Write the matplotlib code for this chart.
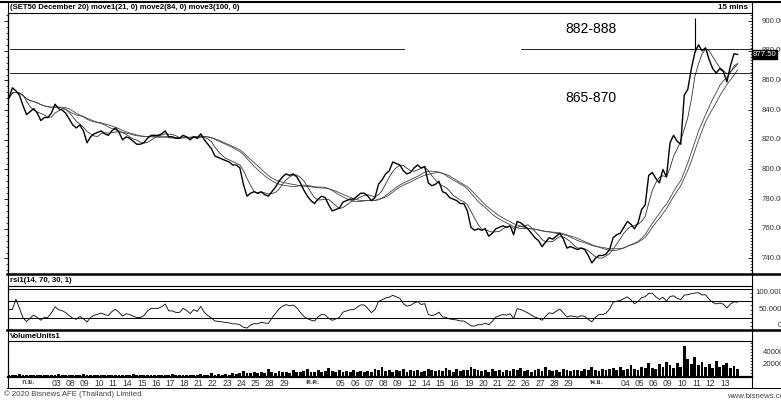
import numpy as np
import pandas as pd
import matplotlib
matplotlib.use("Agg")
import matplotlib.pyplot as plt
from matplotlib import font_manager, transforms
from matplotlib.lines import Line2D
from matplotlib.ticker import MultipleLocator, NullFormatter, FixedLocator
import matplotlib.ft2font as ft2font

# ---------------- data ----------------
title = "(SET50 December 20) move1(21, 0) move2(84, 0) move3(100, 0)"
interval = "15 mins"
rsi_title = "rsi1(14, 70, 30, 1)"
vol_title = "VolumeUnits1"

close = [
    848, 855, 853, 850, 843, 837, 839, 841, 838, 833,
    835, 835, 838, 844, 841, 840, 838, 834, 830, 828,
    830, 826, 818, 822, 824, 825, 826, 824, 823, 826,
    828, 825, 820, 822, 821, 819, 817, 817, 818, 821,
    823, 823, 823, 824, 826, 822, 822, 821, 821, 823,
    822, 820, 822, 821, 824, 820, 817, 814, 809, 808,
    807, 806, 805, 803, 803, 801, 790, 782, 784, 785,
    784, 785, 783, 782, 785, 788, 792, 795, 797, 796,
    797, 795, 791, 786, 782, 779, 777, 780, 782, 781,
    776, 772, 773, 774, 778, 779, 780, 780, 782, 784,
    784, 782, 779, 781, 790, 793, 797, 799, 805, 804,
    803, 799, 797, 798, 801, 803, 801, 802, 791, 789,
    790, 792, 785, 784, 781, 780, 779, 777, 777, 772,
    761, 759, 760, 759, 760, 755, 757, 760, 761, 762,
    761, 762, 756, 765, 764, 762, 760, 757, 754, 752,
    748, 751, 754, 753, 755, 757, 753, 747, 748, 747,
    746, 747, 746, 742, 737, 740, 742, 742, 743, 746,
    754, 756, 757, 761, 765, 763, 760, 764, 773, 776,
    796, 798, 794, 791, 800, 795, 818, 823, 819, 817,
    850, 854, 868, 879, 884, 880, 882, 874, 868, 865,
    868, 866, 859, 870, 878, 877.5,
]

volume_k = [
    3, 2, 2, 4, 2, 3, 2, 2, 3, 2,
    2, 3, 2, 2, 4, 2, 3, 2, 2, 3,
    2, 4, 3, 2, 2, 3, 2, 2, 3, 2,
    2, 2, 3, 2, 2, 4, 2, 2, 3, 2,
    2, 3, 2, 2, 3, 2, 4, 2, 2, 3,
    2, 3, 3, 2, 4, 3, 2, 5, 3, 4,
    3, 4, 3, 5, 4, 6, 9, 5, 6, 8,
    5, 7, 6, 12, 7, 6, 9, 7, 8, 6,
    10, 8, 7, 9, 12, 8, 7, 10, 8, 9,
    14, 9, 8, 11, 7, 9, 8, 10, 7, 9,
    8, 9, 8, 12, 10, 16, 9, 11, 8, 10,
    9, 12, 8, 10, 9, 11, 8, 9, 13, 10,
    9, 11, 9, 14, 10, 8, 12, 9, 10, 11,
    15, 12, 10, 9, 11, 8, 13, 9, 10, 8,
    11, 9, 12, 10, 14, 9, 11, 8, 10, 12,
    9, 15, 10, 9, 11, 8, 12, 10, 9, 11,
    10, 9, 12, 10, 16, 11, 9, 13, 10, 12,
    14, 10, 15, 11, 13, 18, 12, 10, 16, 14,
    22, 14, 12, 20, 15, 24, 18, 14, 22, 16,
    50, 28, 20, 32, 18, 24, 16, 20, 14, 26,
    15, 18, 22, 14, 17, 12,
]

wick_index = 193
wick_high = 902

day_labels = [
    "ก.ย.", "", "03", "08", "09", "10", "11", "14", "15", "16",
    "17", "18", "21", "22", "23", "24", "25", "28", "29", "",
    "ต.ค.", "", "05", "06", "07", "08", "09", "12", "14", "15",
    "16", "19", "20", "21", "22", "26", "27", "28", "29", "",
    "พ.ย.", "", "04", "05", "06", "09", "10", "11", "12", "13",
]
month_names = ["ก.ย.", "ต.ค.", "พ.ย."]

ma_periods = [21, 84, 100]
rsi_period = 14
rsi_levels = [100, 70, 30]
zone_upper_line = 881
zone_lower_line = 865
zone_texts = ["882-888", "865-870"]
last_price = 877.50
price_ticks = [900, 880, 860, 840, 820, 800, 780, 760, 740]
vol_ticks = [40000, 20000]

# sampling of the series
pts_per_day = 4
real_bars_per_day = 23
first_day = -1.35

# ---------------- helpers ----------------
W, H = 781, 401
fig = plt.figure(figsize=(W / 100, H / 100), dpi=100)
plt.rcParams["font.family"] = ["Liberation Sans", "DejaVu Sans"]


def rect(x0, y0, x1, y1):
    return [x0 / W, 1 - y1 / H, (x1 - x0) / W, (y1 - y0) / H]


def fx(px):
    return px / W


def fy(py):
    return 1 - py / H


def find_font(ch):
    for f in font_manager.fontManager.ttflist:
        try:
            ft = ft2font.FT2Font(f.fname)
            if ord(ch) in ft.get_charmap():
                return f.name
        except Exception:
            pass
    return None


thai_font = find_font("ก")
thai_family = [thai_font, "Liberation Sans"] if thai_font else ["Liberation Sans"]

n = len(close)
x = first_day + np.arange(n) / pts_per_day
s = pd.Series(close, dtype=float)
mas = [s.rolling(max(1, int(round(p * pts_per_day / real_bars_per_day))), min_periods=1).mean()
       for p in ma_periods]

d = s.diff().fillna(0)
alpha = 1.0 / 8
up = d.clip(lower=0).ewm(alpha=alpha, adjust=False).mean()
dn = (-d.clip(upper=0)).ewm(alpha=alpha, adjust=False).mean()
rsi = 100 - 100 / (1 + up / dn.replace(0, np.nan))
rsi = rsi.fillna(50)

XL, XR = 8, 752
xlim = ((XL - 28) / 14.22, (XR - 28) / 14.22)
FS = 5.6

# ---------------- main panel ----------------
ax = fig.add_axes(rect(XL, 12.5, XR, 273))
ax.set_xlim(*xlim)
ymin, ymax = 730.2, 905.8
ax.set_ylim(ymin, ymax)
ax.plot(x, close, color="black", lw=1.0, zorder=3)
ax.vlines(x[wick_index], close[wick_index], wick_high, color="black", lw=0.8, zorder=3)
ma_styles = [dict(color="#333333", lw=0.6), dict(color="#444444", lw=0.6), dict(color="#444444", lw=0.6)]
for m, st in zip(mas, ma_styles):
    ax.plot(x, m, **st, zorder=2)

ax.axhline(zone_upper_line, xmin=(10 - XL) / (XR - XL), xmax=(404 - XL) / (XR - XL), color="black", lw=0.6)
ax.axhline(zone_upper_line, xmin=(521 - XL) / (XR - XL), xmax=1, color="black", lw=0.6)
ax.axhline(zone_lower_line, xmin=(10 - XL) / (XR - XL), xmax=1, color="black", lw=0.6)
tr_ax = transforms.blended_transform_factory(ax.transAxes, ax.transData)
ax.text((591 - XL) / (XR - XL), 895.0, zone_texts[0], transform=tr_ax,
        ha="center", va="center", fontsize=10, family="Liberation Sans")
ax.text((591 - XL) / (XR - XL), 848.5, zone_texts[1], transform=tr_ax,
        ha="center", va="center", fontsize=10, family="Liberation Sans")

ax.set_xticks([])
ax.yaxis.tick_right()
ax.yaxis.set_major_locator(FixedLocator(price_ticks))
ax.yaxis.set_minor_locator(MultipleLocator(2))
ax.yaxis.set_major_formatter(NullFormatter())
ax.tick_params(axis="y", which="major", direction="in", length=3, width=0.6, right=True, left=False)
ax.tick_params(axis="y", which="minor", direction="in", length=1.5, width=0.5, right=True, left=False)
sec = ax.secondary_yaxis("left")
sec.yaxis.set_major_locator(FixedLocator(price_ticks))
sec.yaxis.set_minor_locator(MultipleLocator(4))
sec.yaxis.set_major_formatter(NullFormatter())
sec.tick_params(which="major", direction="out", length=3, width=0.6)
sec.tick_params(which="minor", direction="out", length=1.5, width=0.5)
sec.spines["left"].set_linewidth(0.8)
for sp in ["top", "left", "right"]:
    ax.spines[sp].set_linewidth(0.8)
ax.spines["bottom"].set_visible(False)

tr_main = transforms.blended_transform_factory(fig.transFigure, ax.transData)
for v in price_ticks:
    ax.text(fx(762), v, f"{v:.2f}", transform=tr_main, fontsize=FS, va="center", ha="left", color="#333333")
ax.text(fx(753), last_price, f"{last_price:.2f}", transform=tr_main, fontsize=FS, va="center", ha="left",
        color="white", bbox=dict(facecolor="black", edgecolor="black", pad=0.5), zorder=5)

# ---------------- RSI panel ----------------
axr = fig.add_axes(rect(XL, 286, XR, 330))
axr.set_xlim(*xlim)
axr.set_ylim(0, 107.5)
for lv in rsi_levels:
    axr.axhline(lv, color="black", lw=0.7)
axr.plot(x, rsi, color="black", lw=0.6)
axr.set_xticks([])
axr.yaxis.tick_right()
axr.yaxis.set_major_locator(FixedLocator([0, 50, 100]))
axr.yaxis.set_minor_locator(MultipleLocator(10))
axr.yaxis.set_major_formatter(NullFormatter())
axr.tick_params(axis="y", which="both", direction="in", length=1.5, width=0.5)
for sp in ["top", "left", "right"]:
    axr.spines[sp].set_linewidth(0.8)
axr.spines["bottom"].set_visible(False)
tr_r = transforms.blended_transform_factory(fig.transFigure, axr.transData)
axr.text(fx(755), 100, "100.0000", transform=tr_r, fontsize=FS, va="top", ha="left", color="#333333")
axr.text(fx(759), 50, "50.0000", transform=tr_r, fontsize=FS, va="center", ha="left", color="#333333")
axr.text(fx(778), 2, "0", transform=tr_r, fontsize=FS, va="bottom", ha="left", color="#333333")

# ---------------- Volume panel ----------------
axv = fig.add_axes(rect(XL, 341, XR, 376.5))
axv.set_xlim(*xlim)
axv.set_ylim(0, 58000)
axv.bar(x, np.array(volume_k) * 1000, width=0.8 / pts_per_day, color="black", linewidth=0)
axv.yaxis.tick_right()
axv.yaxis.set_major_locator(FixedLocator(vol_ticks))
axv.yaxis.set_minor_locator(MultipleLocator(5000))
axv.yaxis.set_major_formatter(NullFormatter())
axv.tick_params(axis="y", which="both", direction="in", length=1.5, width=0.5)
for sp in ["top", "left", "right"]:
    axv.spines[sp].set_linewidth(0.8)
axv.spines["bottom"].set_linewidth(1.6)
tr_v = transforms.blended_transform_factory(fig.transFigure, axv.transData)
for v in vol_ticks:
    axv.text(fx(763), v, f"{v}", transform=tr_v, fontsize=FS, va="center", ha="left", color="#333333")

slots = np.arange(len(day_labels))
axv.set_xticks(slots)
axv.set_xticklabels(day_labels)
axv.tick_params(axis="x", length=0, pad=1.6, labelsize=6.2, labelcolor="#333333")
for lbl in axv.get_xticklabels():
    if lbl.get_text() in month_names:
        lbl.set_family(thai_family)
        lbl.set_fontweight("bold")
        lbl.set_fontsize(5.5)

# ---------------- frame, titles ----------------
def hline(y, x0, x1, lw):
    fig.add_artist(Line2D([fx(x0), fx(x1)], [fy(y), fy(y)], color="black", lw=lw))


def vline(xp, y0, y1, lw):
    fig.add_artist(Line2D([fx(xp), fx(xp)], [fy(y0), fy(y1)], color="black", lw=lw))


hline(2.0, 0, 781, 1.5)
hline(273.5, 7, 781, 1.8)
hline(330.0, 7, 781, 1.8)
hline(388.0, 7, 781, 0.7)
vline(XL, 2, 388, 0.8)
vline(XR, 2, 388, 0.8)

fig.text(fx(10), fy(7.5), title, fontsize=5.6, fontweight="bold", va="center", ha="left")
fig.text(fx(733), fy(7.5), interval, fontsize=5.8, fontweight="bold", va="center", ha="center")
fig.text(fx(10), fy(280.5), rsi_title, fontsize=5.6, fontweight="bold", va="center", ha="left")
fig.text(fx(10), fy(336), vol_title, fontsize=5.6, fontweight="bold", va="center", ha="left")
fig.text(fx(4), fy(394.5), "© 2020 Bisnews AFE (Thailand) Limited", fontsize=5.6, va="center", ha="left", color="#444444")
fig.text(fx(727), fy(396.5), "www.bisnews.com", fontsize=5.6, va="center", ha="left", color="#444444")

fig.savefig("out.png", dpi=100, facecolor="white")
